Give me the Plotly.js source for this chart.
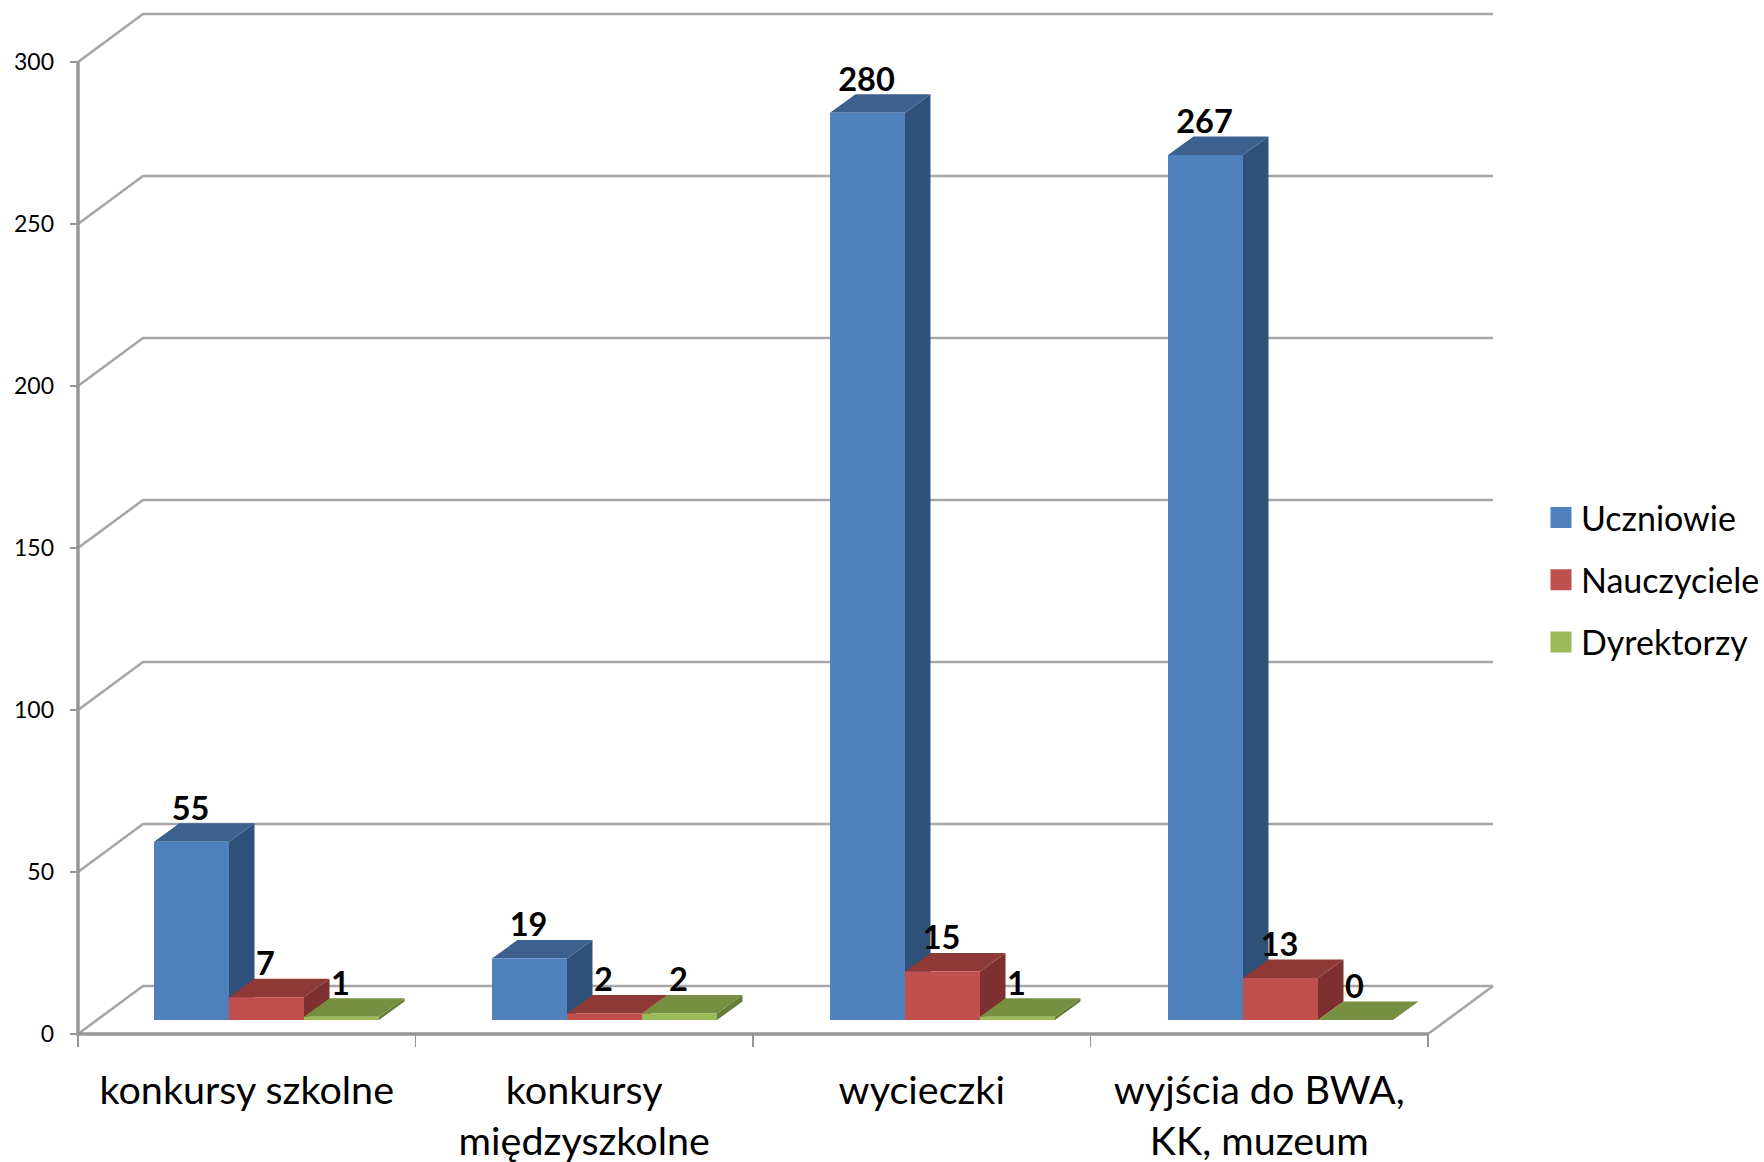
<!DOCTYPE html>
<html>
<head>
<meta charset="utf-8">
<script src="https://cdn.plot.ly/plotly-3.0.1.min.js"></script>
<style>html,body{margin:0;padding:0;background:#fff}</style>
</head>
<body>
<div id="chart" style="width:1764px;height:1162px"></div>
<script>
const categories = ["konkursy szkolne", "konkursy<br>międzyszkolne", "wycieczki", "wyjścia do BWA,<br>KK, muzeum"];
const uczniowie = [55, 19, 280, 267];
const nauczyciele = [7, 2, 15, 13];
const dyrektorzy = [1, 2, 1, 0];
const seriesNames = ["Uczniowie", "Nauczyciele", "Dyrektorzy"];
const yTicks = [0, 50, 100, 150, 200, 250, 300];

const FONT = "Lato, Carlito, sans-serif";
const W = 1764, H = 1162, padL = 8, padB = 13;
const L = 78 - padL, T = 10, B = 128 - padB, R = 264;
const pxPerCat = 337.5, pxPerVal = 3.24;
const xMin = -padL / pxPerCat, yMin = -padB / pxPerVal;
const xMax = xMin + (W - L - R) / pxPerCat, yMax = yMin + (H - T - B) / pxPerVal;
const wallDx = 65 / pxPerCat, wallDy = 48 / pxPerVal;
const barBase = 14 / pxPerVal, barDx = 25.5 / pxPerCat, barDy = 18.5 / pxPerVal;
const barStart = 76 / pxPerCat, barW = 75 / pxPerCat, barPitch = 338 / pxPerCat;
const labelDrop = 4.5 / pxPerVal;

const seriesValues = [uczniowie, nauczyciele, dyrektorzy];
const frontCol = ["#4F81BD", "#C0504D", "#9BBB59"];
const topCol = ["#3C618F", "#8E3936", "#768F41"];
const sideCol = ["#30527A", "#7E302E", "#667C38"];
const catIdx = categories.map((_, i) => i);
const leftOf = (c, s) => c * barPitch + barStart + s * barW;

const traces = [];

// Back wall + side wall gridlines
const gx = [], gy = [];
yTicks.forEach(v => {
  gx.push(0, wallDx, 4 + wallDx, null);
  gy.push(v, v + wallDy, v + wallDy, null);
});
gx.push(4, 4 + wallDx, null);
gy.push(0, wallDy, null);
traces.push({type: "scatter", mode: "lines", x: gx, y: gy, hoverinfo: "skip", showlegend: false,
  line: {color: "#A6A6A6", width: 2.6}});

// Side and top faces, drawn back-to-front per series
seriesValues.forEach((vals, s) => {
  const sx = [], sy = [], tx = [], ty = [];
  catIdx.forEach(c => {
    const x0 = leftOf(c, s), x1 = x0 + barW, top = barBase + vals[c];
    sx.push(x1, x1 + barDx, x1 + barDx, x1, x1, null);
    sy.push(barBase, barBase + barDy, top + barDy, top, barBase, null);
    tx.push(x0, x0 + barDx, x1 + barDx, x1, x0, null);
    ty.push(top, top + barDy, top + barDy, top, top, null);
  });
  traces.push({type: "scatter", mode: "lines", x: sx, y: sy, fill: "toself", fillcolor: sideCol[s],
    line: {width: 0, color: sideCol[s]}, hoverinfo: "skip", showlegend: false});
  traces.push({type: "scatter", mode: "lines", x: tx, y: ty, fill: "toself", fillcolor: topCol[s],
    line: {width: 0, color: topCol[s]}, hoverinfo: "skip", showlegend: false});
});

// Front faces: real bars on the overlay axes so they paint above the faces
seriesValues.forEach((vals, s) => {
  traces.push({type: "bar", xaxis: "x2", yaxis: "y2", name: seriesNames[s], showlegend: false,
    x: catIdx.map(c => leftOf(c, s) + barW / 2), y: vals, base: catIdx.map(() => barBase), width: barW,
    marker: {color: frontCol[s], line: {width: 0}}, hoverinfo: "skip"});
});

// Main axis lines
traces.push({type: "scatter", mode: "lines", xaxis: "x2", yaxis: "y2", x: [0, 0, 4], y: [yTicks[yTicks.length - 1], 0, 0],
  hoverinfo: "skip", showlegend: false, line: {color: "#969696", width: 3.4}});

// Value labels
seriesValues.forEach((vals, s) => {
  traces.push({type: "scatter", mode: "text", xaxis: "x2", yaxis: "y2", showlegend: false, hoverinfo: "skip",
    x: catIdx.map(c => leftOf(c, s) + barW / 2 - 1 / pxPerCat), y: vals.map(v => v + barBase + barDy - labelDrop),
    text: vals.map(String), textposition: "top center", cliponaxis: false,
    textfont: {family: FONT, size: 32.5, color: "#000", weight: 700}});
});

// Legend entries
seriesNames.forEach((n, s) => {
  traces.push({type: "scatter", mode: "markers", x: [null], y: [null], name: n, legendgroup: n,
    marker: {symbol: "square", size: 16, color: frontCol[s], line: {color: frontCol[s], width: 5}}, hoverinfo: "skip"});
});

const layout = {
  width: W, height: H, paper_bgcolor: "#fff", plot_bgcolor: "#fff",
  margin: {l: L, r: R, t: T, b: B, pad: 0},
  barmode: "overlay", hovermode: false, showlegend: true,
  font: {family: FONT, color: "#000"},
  xaxis: {range: [xMin, xMax], showgrid: false, zeroline: false, showline: false, tickmode: "array",
    tickvals: [0, 1, 2, 3, 4], ticks: "inside", ticklen: padB, tickwidth: 1.5, tickcolor: "#969696", showticklabels: false},
  xaxis2: {range: [xMin, xMax], overlaying: "x", anchor: "y", side: "bottom", showgrid: false, zeroline: false, showline: false,
    tickmode: "array", tickvals: catIdx.map(c => c + 0.5), ticktext: categories, ticks: "", ticklabelstandoff: 16,
    tickangle: 0, tickfont: {family: FONT, size: 39.5, color: "#000"}},
  yaxis: {range: [yMin, yMax], showgrid: false, zeroline: false, showline: false, tickmode: "array",
    tickvals: yTicks, ticktext: yTicks.map(String), ticks: "inside", ticklen: padL, tickwidth: 2, tickcolor: "#969696",
    ticklabelstandoff: 15, tickfont: {family: FONT, size: 23, color: "#000"}},
  yaxis2: {range: [yMin, yMax], overlaying: "y", anchor: "x", showgrid: false, zeroline: false, showline: false, showticklabels: false, ticks: ""},
  legend: {xref: "container", x: 1541 / W, xanchor: "left", yref: "container", y: 1 - 580 / H, yanchor: "middle",
    traceorder: "grouped", tracegroupgap: 15,
    font: {family: FONT, size: 34, color: "#000"}, bgcolor: "rgba(0,0,0,0)", borderwidth: 0, itemclick: false, itemdoubleclick: false}
};

Plotly.newPlot("chart", traces, layout, {displayModeBar: false, staticPlot: true});
</script>
</body>
</html>
